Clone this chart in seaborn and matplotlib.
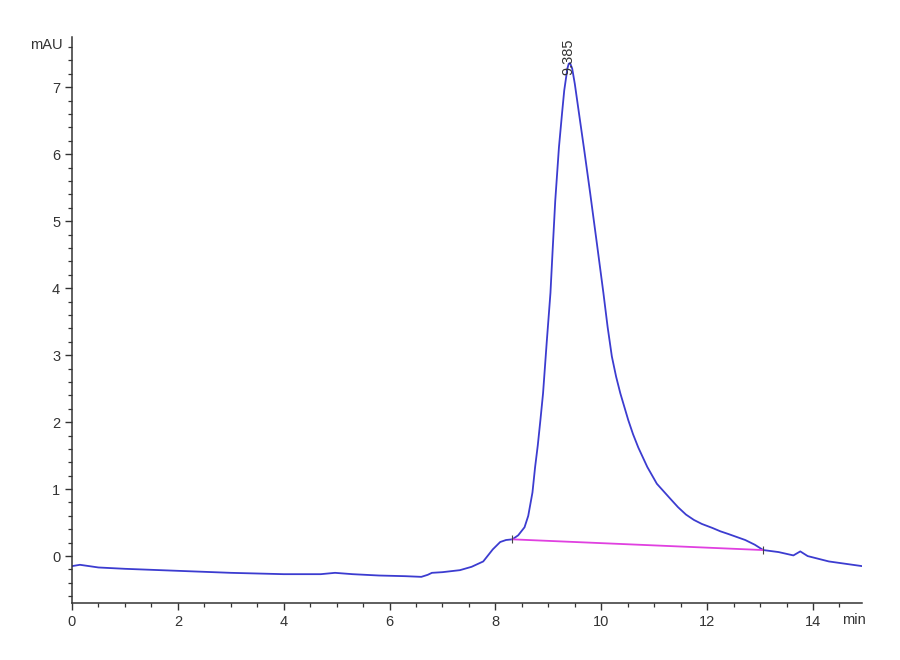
#!/usr/bin/env python3
# SEC-HPLC trace: one main peak at 9.385 min with integration baseline.
import matplotlib
matplotlib.use("Agg")
import matplotlib.pyplot as plt
from matplotlib.ticker import MultipleLocator
import seaborn as sns

# retention time [min] and absorbance [mAU]
time_min = [0.0, 0.15, 0.5, 1.0, 2.0, 3.0, 4.0, 4.7, 4.97, 5.3, 5.8, 6.3,
            6.6, 6.72, 6.8, 7.0, 7.33, 7.55, 7.77, 7.95, 8.09, 8.2, 8.32,
            8.43, 8.55, 8.62, 8.7, 8.75, 8.8, 8.85, 8.9, 8.97, 9.04, 9.08,
            9.13, 9.2, 9.26, 9.3, 9.36, 9.385, 9.41, 9.45, 9.5, 9.57, 9.68,
            9.79, 9.92, 10.04, 10.12, 10.2, 10.28, 10.36, 10.51, 10.6, 10.7,
            10.87, 11.05, 11.3, 11.45, 11.6, 11.75, 11.9, 12.1, 12.25, 12.4,
            12.72, 12.9, 13.06, 13.35, 13.63, 13.76, 13.9, 14.3, 14.93]
signal_mau = [-0.15, -0.13, -0.17, -0.19, -0.22, -0.25, -0.27, -0.27, -0.25,
              -0.27, -0.29, -0.30, -0.31, -0.28, -0.25, -0.24, -0.21, -0.16,
              -0.08, 0.10, 0.21, 0.24, 0.25, 0.31, 0.43, 0.60, 0.95, 1.33,
              1.65, 2.03, 2.43, 3.20, 3.93, 4.55, 5.30, 6.10, 6.62, 6.95,
              7.28, 7.35, 7.36, 7.28, 7.05, 6.66, 6.05, 5.42, 4.65, 3.93,
              3.42, 2.98, 2.68, 2.43, 2.03, 1.82, 1.62, 1.33, 1.08, 0.86,
              0.73, 0.62, 0.54, 0.48, 0.42, 0.37, 0.33, 0.24, 0.17, 0.09,
              0.06, 0.01, 0.07, 0.00, -0.08, -0.15]

# integration baseline under the peak
baseline_t = [8.32, 13.06]
baseline_v = [0.25, 0.09]

peak_rt = 9.385
peak_label = "9.385"

sns.set_style("ticks")
plt.rcParams["font.family"] = ["Liberation Sans Narrow", "Liberation Sans",
                               "DejaVu Sans"]

fig = plt.figure(figsize=(9, 6.6), dpi=100)
ax = fig.add_axes([0.08, 0.0864, 0.878, 0.8576])

sns.lineplot(x=time_min, y=signal_mau, ax=ax, color="#3c3cd0",
             linewidth=1.3, estimator=None)
sns.lineplot(x=baseline_t, y=baseline_v, ax=ax, color="#e040e0",
             linewidth=1.3, estimator=None)
# small marks at baseline start / end
ax.plot(baseline_t, baseline_v, linestyle="none", marker="|",
        markersize=6, color="#444444", markeredgewidth=0.8)

ax.text(peak_rt, 7.18, peak_label, rotation=90, ha="center", va="bottom",
        fontsize=10.5, color="#333333")

ax.set_xlim(0, 14.93)
ax.set_ylim(-0.70, 7.75)
ax.xaxis.set_major_locator(MultipleLocator(2))
ax.xaxis.set_minor_locator(MultipleLocator(0.5))
ax.yaxis.set_major_locator(MultipleLocator(1))
ax.yaxis.set_minor_locator(MultipleLocator(0.2))
ax.tick_params(which="major", length=5, width=1.0, colors="#333333",
               labelsize=10.5)
ax.tick_params(which="minor", length=3, width=0.9, colors="#333333")

for side in ("top", "right"):
    ax.spines[side].set_visible(False)
for side in ("left", "bottom"):
    ax.spines[side].set_color("#333333")
    ax.spines[side].set_linewidth(1.1)

ax.annotate("mAU", xy=(0, 7.63), xycoords=ax.get_yaxis_transform(),
            xytext=(-7, 0), textcoords="offset points", ha="right",
            va="center", fontsize=10.5, color="#333333")
ax.annotate("min", xy=(14.78, 0), xycoords=ax.get_xaxis_transform(),
            xytext=(0, -7), textcoords="offset points", ha="center",
            va="top", fontsize=10.5, color="#333333")

ax.set_xlabel("")
ax.set_ylabel("")
fig.savefig("out.png", dpi=100)
